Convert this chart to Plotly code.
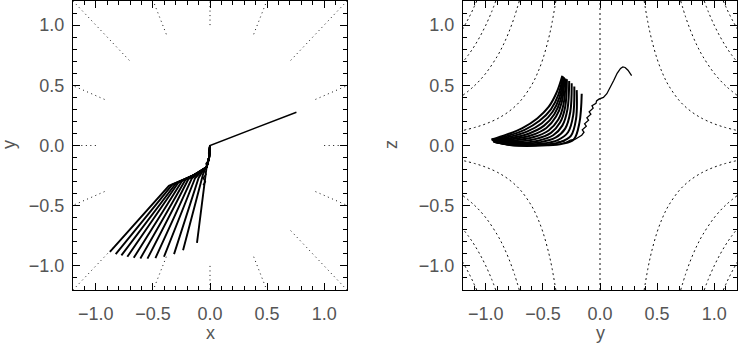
import numpy as np
import plotly.graph_objects as go

# ---------------- data ----------------
# Left panel (x-y): background field lines of the fan plane (radial, dotted)
fan_angles_deg = [0, 22.5, 45, 67.5, 90, 112.5, 135, 157.5, 180,
                  202.5, 225, 247.5, 270, 292.5, 315, 337.5]
fan_r_inner = 1.0
fan_r_outer = 1.75

# Right panel (y-z): field lines in one quadrant (y>0, z>0), mirrored to the others
fl_y = [
    [0.387, 0.42, 0.45, 0.5, 0.55, 0.6, 0.7, 0.8, 0.9, 1.0, 1.1, 1.21],
    [0.707, 0.75, 0.8, 0.85, 0.9, 1.0, 1.1, 1.21],
    [0.913, 0.95, 1.0, 1.05, 1.1, 1.15, 1.21],
    [1.08, 1.11, 1.14, 1.17, 1.21],
]
fl_z = [
    [1.2, 1.02, 0.889, 0.72, 0.595, 0.5, 0.367, 0.281, 0.222, 0.18, 0.149, 0.123],
    [1.2, 1.067, 0.9375, 0.83, 0.741, 0.6, 0.496, 0.41],
    [1.2, 1.108, 1.0, 0.907, 0.826, 0.756, 0.683],
    [1.2, 1.136, 1.077, 1.023, 0.956],
]

# Left panel trajectories (x-y): end point, knee, and inner points
traj_xy_x = [
    [-0.877, -0.36, -0.15, -0.03, -0.008, 0.0],
    [-0.826, -0.33, -0.14, -0.03, -0.008, 0.0],
    [-0.776, -0.30, -0.13, -0.03, -0.008, 0.0],
    [-0.724, -0.275, -0.12, -0.03, -0.008, 0.0],
    [-0.668, -0.245, -0.11, -0.03, -0.008, 0.0],
    [-0.610, -0.215, -0.10, -0.03, -0.008, 0.0],
    [-0.548, -0.19, -0.09, -0.03, -0.008, 0.0],
    [-0.478, -0.16, -0.08, -0.03, -0.008, 0.0],
    [-0.403, -0.13, -0.07, -0.03, -0.008, 0.0],
    [-0.315, -0.10, -0.06, -0.03, -0.008, 0.0],
    [-0.236, -0.07, -0.05, -0.03, -0.008, 0.0],
    [-0.114, -0.04, -0.035, -0.03, -0.008, 0.0],
]
traj_xy_y = [
    [-0.883, -0.335, -0.25, -0.18, -0.10, 0.0],
    [-0.902, -0.325, -0.245, -0.18, -0.10, 0.0],
    [-0.913, -0.315, -0.24, -0.18, -0.10, 0.0],
    [-0.924, -0.305, -0.235, -0.18, -0.10, 0.0],
    [-0.933, -0.295, -0.23, -0.18, -0.10, 0.0],
    [-0.938, -0.285, -0.225, -0.18, -0.10, 0.0],
    [-0.940, -0.28, -0.22, -0.18, -0.10, 0.0],
    [-0.935, -0.275, -0.215, -0.18, -0.10, 0.0],
    [-0.924, -0.27, -0.21, -0.18, -0.10, 0.0],
    [-0.902, -0.27, -0.205, -0.18, -0.10, 0.0],
    [-0.869, -0.27, -0.20, -0.18, -0.10, 0.0],
    [-0.809, -0.27, -0.22, -0.18, -0.10, 0.0],
]
# the escaping particle in x-y
long_xy_x = [-0.06, -0.04, -0.06, -0.035, -0.05, -0.025, -0.035, -0.01, -0.012, 0.0, 0.0, 0.757]
long_xy_y = [-0.33, -0.30, -0.27, -0.24, -0.21, -0.18, -0.15, -0.12, -0.06, -0.03, 0.0, 0.276]

# Right panel trajectories (y-z), from the left blob to the tips
traj_yz_y = [
    [-0.95, -0.82, -0.68, -0.55, -0.45, -0.38, -0.33],
    [-0.95, -0.81, -0.66, -0.53, -0.43, -0.365, -0.325],
    [-0.945, -0.80, -0.64, -0.51, -0.415, -0.355, -0.32],
    [-0.94, -0.79, -0.62, -0.49, -0.40, -0.345, -0.315],
    [-0.94, -0.785, -0.60, -0.47, -0.385, -0.335, -0.31],
    [-0.935, -0.78, -0.58, -0.45, -0.365, -0.32, -0.30],
    [-0.935, -0.775, -0.56, -0.43, -0.35, -0.305, -0.29],
    [-0.93, -0.77, -0.54, -0.41, -0.33, -0.285, -0.27],
    [-0.93, -0.765, -0.52, -0.39, -0.305, -0.26, -0.248],
    [-0.93, -0.76, -0.50, -0.37, -0.28, -0.235, -0.225],
    [-0.93, -0.755, -0.48, -0.35, -0.255, -0.21, -0.204],
    [-0.93, -0.75, -0.46, -0.33, -0.23, -0.18, -0.16],
]
traj_yz_z = [
    [0.05, 0.09, 0.145, 0.225, 0.32, 0.44, 0.58],
    [0.048, 0.08, 0.13, 0.205, 0.30, 0.42, 0.575],
    [0.046, 0.07, 0.115, 0.185, 0.28, 0.40, 0.57],
    [0.044, 0.06, 0.10, 0.165, 0.26, 0.38, 0.565],
    [0.042, 0.05, 0.085, 0.145, 0.24, 0.36, 0.56],
    [0.04, 0.04, 0.07, 0.125, 0.215, 0.34, 0.555],
    [0.038, 0.03, 0.055, 0.105, 0.19, 0.32, 0.55],
    [0.036, 0.02, 0.04, 0.085, 0.165, 0.30, 0.535],
    [0.034, 0.012, 0.028, 0.065, 0.14, 0.28, 0.516],
    [0.032, 0.006, 0.016, 0.045, 0.11, 0.25, 0.49],
    [0.03, 0.002, 0.008, 0.028, 0.08, 0.22, 0.46],
    [0.03, 0.0, 0.002, 0.015, 0.05, 0.19, 0.43],
]
# the escaping particle in y-z
long_yz_y = [-0.38, -0.33, -0.30, -0.26, -0.22, -0.16, -0.14, -0.155, -0.12, -0.135, -0.10,
             -0.115, -0.08, -0.095, -0.06, -0.07, -0.035, -0.03, -0.01, 0.0, 0.03, 0.06,
             0.09, 0.12, 0.15, 0.18, 0.20, 0.22, 0.245, 0.277]
long_yz_z = [0.025, 0.035, 0.025, 0.045, 0.05, 0.085, 0.11, 0.13, 0.16, 0.18, 0.21,
             0.23, 0.26, 0.28, 0.31, 0.33, 0.35, 0.37, 0.385, 0.39, 0.40, 0.43,
             0.48, 0.54, 0.60, 0.64, 0.653, 0.648, 0.625, 0.58]

tick_vals = [-1.0, -0.5, 0.0, 0.5, 1.0]
axis_titles = ["x", "y", "y", "z"]

# ---------------- figure ----------------
fig = go.Figure()

# fan-plane field lines (left)
for a in fan_angles_deg:
    t = np.deg2rad(a)
    fig.add_trace(go.Scatter(
        x=[fan_r_inner * np.cos(t), fan_r_outer * np.cos(t)],
        y=[fan_r_inner * np.sin(t), fan_r_outer * np.sin(t)],
        mode="lines", line=dict(color="#111", width=1, dash="1px,3.5px"),
        xaxis="x", yaxis="y", hoverinfo="skip", showlegend=False))

# y-z field lines (right)
for sy in (1, -1):
    for sz in (1, -1):
        for ys, zs in zip(fl_y, fl_z):
            fig.add_trace(go.Scatter(
                x=[sy * v for v in ys], y=[sz * v for v in zs],
                mode="lines", line=dict(color="#111", width=1, dash="2px,3px", shape="spline"),
                xaxis="x2", yaxis="y2", hoverinfo="skip", showlegend=False))
fig.add_trace(go.Scatter(
    x=[0, 0], y=[-1.2, 1.2], mode="lines",
    line=dict(color="#111", width=1, dash="2px,3px"),
    xaxis="x2", yaxis="y2", hoverinfo="skip", showlegend=False))

# trajectories x-y
for xs, ys in zip(traj_xy_x, traj_xy_y):
    fig.add_trace(go.Scatter(x=xs, y=ys, mode="lines",
                             line=dict(color="black", width=1.9),
                             xaxis="x", yaxis="y", hoverinfo="skip", showlegend=False))
fig.add_trace(go.Scatter(x=long_xy_x, y=long_xy_y, mode="lines",
                         line=dict(color="black", width=1.4),
                         xaxis="x", yaxis="y", hoverinfo="skip", showlegend=False))

# trajectories y-z
for ys, zs in zip(traj_yz_y, traj_yz_z):
    fig.add_trace(go.Scatter(x=ys, y=zs, mode="lines",
                             line=dict(color="black", width=2.0, shape="spline"),
                             xaxis="x2", yaxis="y2", hoverinfo="skip", showlegend=False))
fig.add_trace(go.Scatter(x=long_yz_y, y=long_yz_z, mode="lines",
                         line=dict(color="black", width=1.3),
                         xaxis="x2", yaxis="y2", hoverinfo="skip", showlegend=False))

tickfont = dict(family="Liberation Sans, Arial, sans-serif", size=18, color="#555")
common = dict(range=[-1.2, 1.2], tickvals=tick_vals, tickformat=".1f",
              ticks="inside", ticklen=7, tickwidth=1, tickcolor="black",
              minor=dict(dtick=0.1, tick0=0, ticks="inside", ticklen=4, tickcolor="black"),
              showline=True, linecolor="black", linewidth=1, mirror="ticks",
              showgrid=False, zeroline=False, tickfont=tickfont, fixedrange=True)

L = 73
W = 664
H = 289
fig.update_layout(
    width=738, height=344,
    margin=dict(l=L, r=1, t=1, b=54),
    plot_bgcolor="white", paper_bgcolor="white",
    showlegend=False,
    xaxis=dict(domain=[0, 274 / W], anchor="y", ticklabelstandoff=7, **common),
    yaxis=dict(domain=[0, 1], anchor="x", ticklabelstandoff=4, **common),
    xaxis2=dict(domain=[(463 - L) / W, 1], anchor="y2", ticklabelstandoff=7, **common),
    yaxis2=dict(domain=[0, 1], anchor="x2", ticklabelstandoff=4, **common),
)

title_font = dict(family="Liberation Sans, Arial, sans-serif", size=18, color="#555")
ann = [
    (axis_titles[0], (210 - L) / W, -(333 - 290) / H, 0),
    (axis_titles[1], (9 - L) / W, (290 - 145) / H, -90),
    (axis_titles[2], (600 - L) / W, -(333 - 290) / H, 0),
    (axis_titles[3], (391 - L) / W, (290 - 145) / H, -90),
]
for text, xp, yp, ang in ann:
    fig.add_annotation(text=text, x=xp, y=yp, xref="paper", yref="paper",
                       xanchor="center", yanchor="middle", showarrow=False,
                       textangle=ang, font=title_font)

fig.write_html("out.html", config={"displayModeBar": False},
               post_script="document.body.style.margin='0';document.body.style.overflow='hidden';")
